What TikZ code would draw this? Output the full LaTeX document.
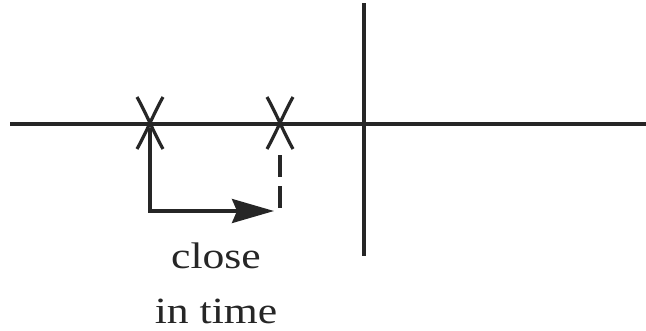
\documentclass[tikz,border=0pt]{standalone}
\usepackage{fontspec}
\setmainfont{Liberation Serif}[FakeStretch=1.18]
\usetikzlibrary{arrows.meta}
\begin{document}
\begin{tikzpicture}[x=1pt,y=-1pt,
  axisline/.style={line width=3.8pt,draw=black!85},
  crossmark/.style={line width=3.2pt,draw=black!85},
  guide/.style={line width=3.4pt,draw=black!85},
  lbl/.style={font=\fontsize{37}{44}\selectfont,text=black!85,inner sep=0pt,anchor=base}]
\useasboundingbox (0,0) rectangle (646,330);
% axes
\coordinate (hl) at (10,124);
\coordinate (hr) at (646,124);
\coordinate (vt) at (364,3);
\coordinate (vb) at (364,256);
\draw[axisline] (hl) -- (hr);
\draw[axisline] (vt) -- (vb);
% cross marks
\coordinate (x1) at (150,123);
\coordinate (x2) at (280,123);
\foreach \p in {x1,x2}{
  \draw[crossmark] ([shift={(-13,-26)}]\p) .. controls ([shift={(-3,-8)}]\p) and ([shift={(3,8)}]\p) .. ([shift={(13,26)}]\p);
  \draw[crossmark] ([shift={(13,-26)}]\p) .. controls ([shift={(3,-8)}]\p) and ([shift={(-3,8)}]\p) .. ([shift={(-13,26)}]\p);
}
% connector
\coordinate (c1) at (150,128);
\coordinate (cc) at (150,211);
\coordinate (ce) at (274,211);
\coordinate (d1) at (280,155);
\coordinate (d2) at (280,209);
\draw[guide,-{Stealth[length=42pt,width=24pt,inset=5pt]}] (c1) -- (cc) -- (ce);
\draw[guide,dash pattern=on 22pt off 9pt] (d1) -- (d2);
% labels
\node[lbl] (t1) at (216,268) {close};
\node[lbl] (t2) at (216,323) {in time};
\end{tikzpicture}
\end{document}
